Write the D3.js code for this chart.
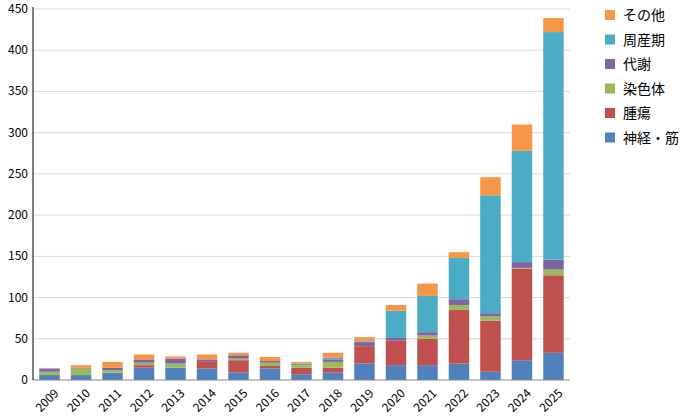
<!DOCTYPE html><html><head><meta charset="utf-8"><script src="https://cdn.jsdelivr.net/npm/d3@7"></script>
<style>body{margin:0;background:#fff}text{font-family:"Noto Sans CJK JP","Liberation Sans",sans-serif}</style></head><body>
<svg id="c" width="683" height="416"></svg>
<script>
const years=["2009","2010","2011","2012","2013","2014","2015","2016","2017","2018","2019","2020","2021","2022","2023","2024","2025"];
const seriesNames=["神経・筋","腫瘍","染色体","代謝","周産期","その他"];
const colors=["#4F81BD","#C0504D","#9BBB59","#8064A2","#4BACC6","#F79646"];
const neuro=[6,6,9,15,15,14,9,14,7,9,20,18,18,20,10,24,33];
const tumor=[0,0,0,3,0,8,15,3,8,6,21,30,32,65,62,111,94];
const chromo=[4,8,3,3,5,0,2,4,3,7,0,0,4,6,5,1,7];
const metab=[4,1,3,4,6,3,4,2,0,3,5,3,4,7,4,7,12];
const peri=[0,0,0,0,0,0,0,0,2,2,1,33,44,50,143,135,276];
const other=[0,3,7,6,2.5,6,3,5,2,6,5,7,15,7,22,32,17];
const yTicks=[0,50,100,150,200,250,300,350,400,450];
const vals=[neuro,tumor,chromo,metab,peri,other];
const rows=years.map((y,i)=>{const r={year:y};seriesNames.forEach((s,k)=>r[s]=vals[k][i]);return r;});
const stack=d3.stack().keys(seriesNames)(rows);
const svg=d3.select("#c");
const L=33,R=570,T=9,B=380;
const x=d3.scaleBand().domain(years).range([L,R]).paddingInner(0.35).paddingOuter(0.2);
const y=d3.scaleLinear().domain([0,450]).range([B,T]);
svg.append("g").selectAll("line").data(yTicks.slice(1)).join("line")
 .attr("x1",L).attr("x2",R).attr("y1",d=>y(d)).attr("y2",d=>y(d)).attr("stroke","#d9d9d9");
svg.append("g").selectAll("g").data(stack).join("g").attr("fill",(d,i)=>colors[i])
 .selectAll("rect").data(d=>d).join("rect")
 .attr("x",d=>x(d.data.year)).attr("width",x.bandwidth())
 .attr("y",d=>y(d[1])).attr("height",d=>Math.max(0,y(d[0])-y(d[1])));
svg.append("line").attr("x1",L).attr("x2",R).attr("y1",B).attr("y2",B).attr("stroke","#888");
svg.append("line").attr("x1",L).attr("x2",L).attr("y1",T-2).attr("y2",B).attr("stroke","#000");
svg.append("g").selectAll("text").data(yTicks).join("text")
 .attr("x",L-5).attr("y",d=>y(d)+4).attr("text-anchor","end").attr("font-size",12).text(d=>d);
svg.append("g").selectAll("text").data(years).join("text")
 .attr("transform",d=>`translate(${x(d)+x.bandwidth()/2+4},${B+8}) rotate(-45)`)
 .attr("text-anchor","end").attr("dy","0.7em").attr("font-size",12).text(d=>d);
const leg=svg.append("g").selectAll("g").data(seriesNames.slice().reverse()).join("g")
 .attr("transform",(d,i)=>`translate(605,${10+i*24.5})`);
leg.append("rect").attr("width",10).attr("height",10).attr("fill",d=>colors[seriesNames.indexOf(d)]);
leg.append("text").attr("x",18).attr("y",10).attr("font-size",14).text(d=>d);
</script></body></html>
